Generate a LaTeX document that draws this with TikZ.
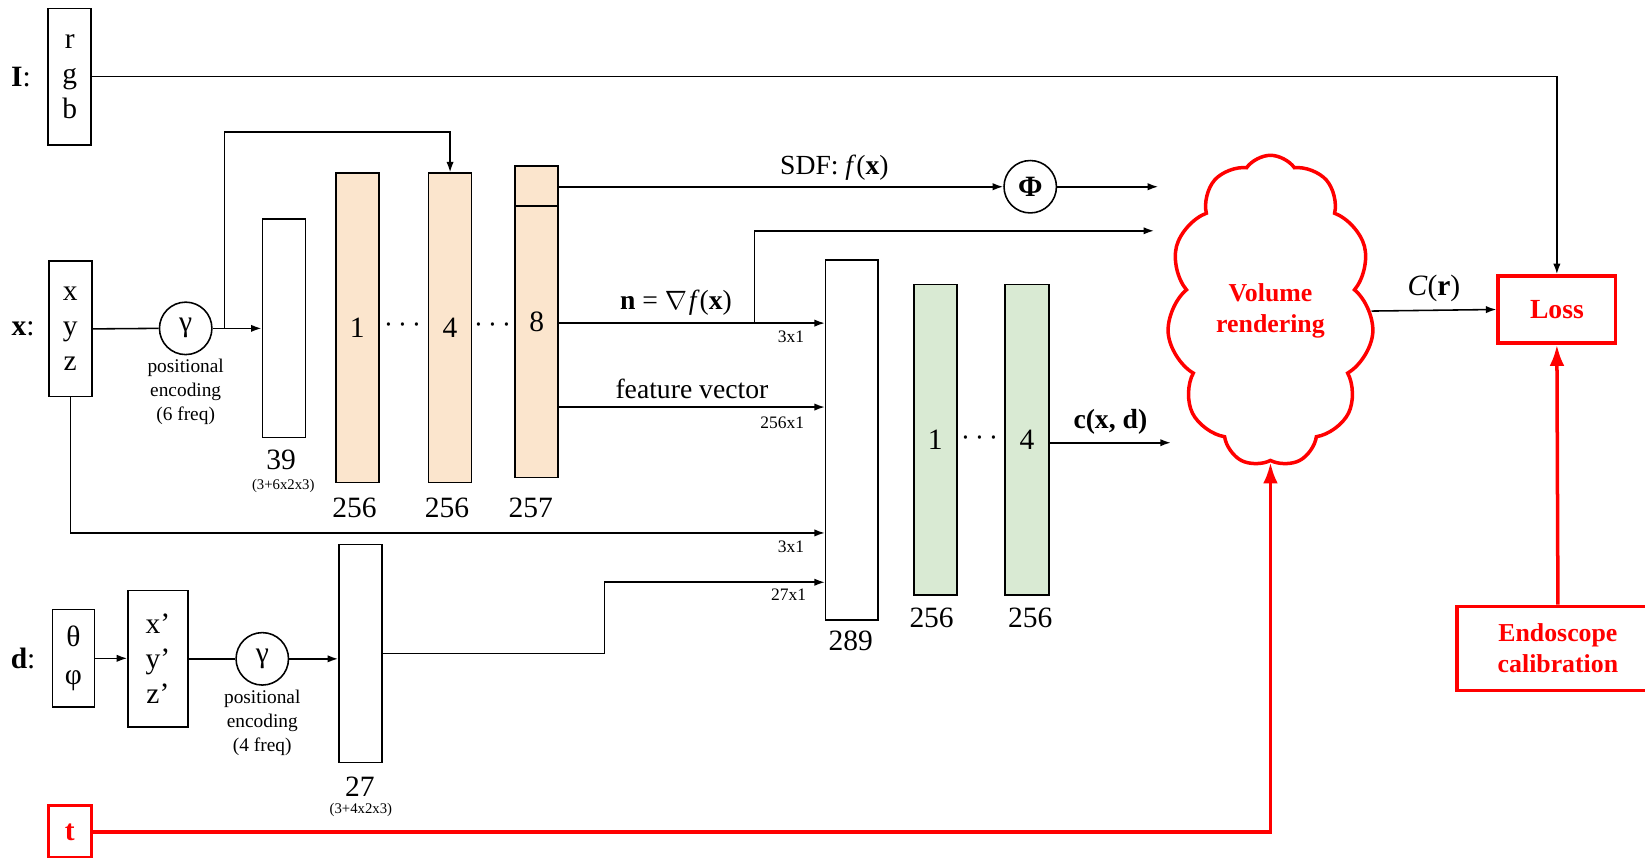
\documentclass[tikz,border=0pt]{standalone}
\usepackage{fontspec}
\setmainfont{Liberation Serif}
\usetikzlibrary{arrows.meta,shapes.symbols,calc}
\definecolor{layerorange}{RGB}{251,229,205}
\definecolor{layergreen}{RGB}{217,234,211}
\begin{document}
\begin{tikzpicture}[x=0.02cm, y=-0.02cm, line width=0.85pt,
  box/.style={draw, minimum width=0.82cm, inner sep=0pt, align=center, font=\fontsize{16}{19}\selectfont},
  layer/.style={box, minimum height=5.9cm},
  pe/.style={draw, circle, minimum size=1cm, inner sep=0pt, font=\fontsize{16}{19}\selectfont},
  lbl/.style={inner sep=1pt, font=\fontsize{16}{19}\selectfont},
  txt/.style={inner sep=1pt, font=\fontsize{15}{18}\selectfont},
  dim/.style={inner sep=1pt, font=\fontsize{9.5}{11}\selectfont},
  tiny/.style={inner sep=1pt, font=\fontsize{8}{9}\selectfont},
  note/.style={inner sep=1pt, align=center, font=\fontsize{10.5}{13}\selectfont},
  arr/.style={-{Latex[length=0.2cm,width=0.14cm]}},
  redarr/.style={red, line width=1.9pt, -{Latex[length=0.4cm,width=0.28cm]}},
  redbox/.style={draw=red, line width=1.9pt, text=red, align=center, font=\fontsize{15}{17}\selectfont\bfseries}]
  \useasboundingbox (0,0) rectangle (1568,817);

  \node[lbl] (li) at (20,73) {\textbf{I}:};
  \node[box, minimum height=2.6cm] (rgb) at (66.5,73) {r\\g\\b};
  \node[lbl] (lx) at (22,313) {\textbf{x}:};
  \node[box, minimum height=2.58cm] (xyz) at (67,313.5) {x\\y\\z};
  \node[pe] (g1) at (177,313) {γ};
  \node[note, anchor=north] (pe1) at (177,340) {positional\\encoding\\(6 freq)};
  \node[box, minimum height=4.16cm] (in39) at (270.5,313) {};
  \node[lbl] (n39) at (268,438) {39};
  \node[tiny] (f39) at (270,463) {(3+6x2x3)};

  \node[layer, fill=layerorange] (h1) at (340.5,312.5) {1};
  \node[lbl] (d1) at (384,310) {$\cdots$};
  \node[layer, fill=layerorange] (h4) at (429,312.5) {4};
  \node[lbl] (d2) at (470,310) {$\cdots$};
  \node[layer, fill=layerorange, minimum height=5.94cm] (h8) at (511.5,306.5) {8};
  \draw ($(h8.north west)+(0,39)$) -- ($(h8.north east)+(0,39)$);
  \node[lbl] (n1) at (338,484) {256};
  \node[lbl] (n4) at (426,484) {256};
  \node[lbl] (n8) at (506,484) {257};

  \node[pe, font=\fontsize{16}{19}\selectfont\bfseries] (phi) at (982,178) {Φ};
  \node[box, minimum width=1cm, minimum height=6.86cm] (cat) at (812,419.5) {};
  \node[lbl] (n289) at (811,611) {289};
  \node[layer, fill=layergreen, minimum height=5.92cm] (c1) at (891.5,419) {1};
  \node[lbl] (d3) at (934,418) {$\cdots$};
  \node[layer, fill=layergreen, minimum width=0.84cm, minimum height=5.92cm] (c4) at (979,419) {4};
  \node[lbl] (nc1) at (888,589) {256};
  \node[lbl] (nc4) at (982,589) {256};
  \node[dim, anchor=east] (s1) at (769,321) {3x1};
  \node[dim, anchor=east] (s2) at (769,403) {256x1};
  \node[dim, anchor=east] (s3) at (769,521) {3x1};
  \node[dim, anchor=east] (s4) at (771,567) {27x1};

  \node[cloud, draw=red, line width=1.9pt, cloud puffs=11, cloud puff arc=110, cloud ignores aspect,
    minimum width=3.94cm, minimum height=5.94cm, inner sep=0pt, text=red, align=center,
    font=\fontsize{14}{17}\selectfont\bfseries] (vr) at (1211,296.5) {Volume\\rendering};
  \node[redbox, minimum width=2.24cm, minimum height=1.28cm] (loss) at (1484,295) {Loss};
  \node[redbox, minimum width=3.84cm, minimum height=1.6cm, font=\fontsize{14}{17}\selectfont\bfseries] (cal) at (1485,618) {Endoscope\\calibration};

  \node[lbl] (ld) at (22,628) {\textbf{d}:};
  \node[box, minimum width=0.8cm, minimum height=1.86cm, font=\fontsize{16}{21}\selectfont] (ang) at (70,627.5) {θ\\φ};
  \node[box, minimum width=1.14cm, minimum height=2.6cm] (dir) at (150.5,628) {x’\\y’\\z’};
  \node[pe] (g2) at (250,628) {γ};
  \node[note, anchor=north] (pe2) at (250,655) {positional\\encoding\\(4 freq)};
  \node[box, minimum height=4.16cm] (in27) at (343.5,623) {};
  \node[lbl] (n27) at (343,750) {27};
  \node[tiny] (f27) at (344,772) {(3+4x2x3)};
  \node[redbox, minimum width=0.82cm, minimum height=1cm, font=\fontsize{16}{19}\selectfont\bfseries] (t) at (66.5,793) {t};

  \coordinate (skip) at (214,313);
  \coordinate (skiptop) at (214,126);
  \coordinate (nsplit) at (719,308);
  \coordinate (frow) at (0,388);
  \coordinate (xrow) at (0,508);
  \coordinate (dmid) at (576,555);
  \coordinate (vrin1) at (1104,178);
  \coordinate (vrin2) at (1100,220);
  \coordinate (vrin3) at (1116,422);

  \draw[arr] (rgb.east) -| (loss.north);
  \draw (xyz.east) -- (g1.west);
  \draw[arr] (g1.east) -- (in39.west |- g1);
  \draw[arr] (skip) -- (skiptop) -| (h4.north);
  \draw[arr] (h8.east |- phi) -- node[txt, above=2pt, pos=0.62] (lsdf) {SDF: \textit{f}(\textbf{x})} (phi.west);
  \draw[arr] (phi.east) -- (vrin1);
  \draw[arr] (h8.east |- nsplit) -- node[txt, above=3pt, pos=0.44] (ln) {\textbf{n} = $\nabla$\kern1pt\textit{f}(\textbf{x})} (cat.west |- nsplit);
  \draw[arr] (nsplit) |- (vrin2);
  \draw[arr] (h8.east |- frow) -- node[txt, above=3pt] (lf) {feature vector} (cat.west |- frow);
  \draw[arr] (xyz.south) |- (cat.west |- xrow);
  \draw[arr] (in27.east) -| (dmid) -- (cat.west |- dmid);
  \draw[arr] (c4.east |- vrin3) -- node[txt, above=3pt] (lc) {\textbf{c(x, d)}} (vrin3);
  \draw[arr] (vr.east) -- node[lbl, above=3pt] (lcr) {\textit{C}(\textbf{r})} (loss.west);
  \draw[arr] (ang.east) -- (dir.west |- ang.east);
  \draw (dir.east) -- (g2.west);
  \draw[arr] (g2.east) -- (in27.west |- g2);
  \draw[redarr] (t.east) -| (vr.south);
  \draw[redarr] (cal.north) -- (loss.south);
\end{tikzpicture}
\end{document}
